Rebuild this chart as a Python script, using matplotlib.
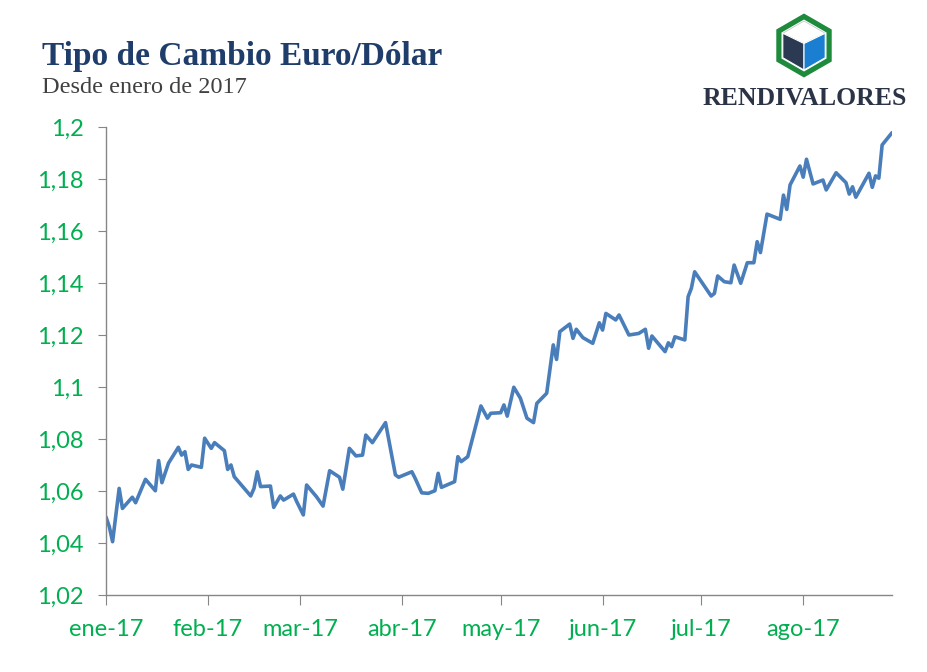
import matplotlib
matplotlib.use("Agg")
import matplotlib.pyplot as plt
from matplotlib.patches import Polygon
import numpy as np
import pandas as pd

# ---------------- data ----------------
dates = [
    "2017-01-01", "2017-01-02", "2017-01-03", "2017-01-05", "2017-01-06", "2017-01-09", "2017-01-10",
    "2017-01-13", "2017-01-16", "2017-01-17", "2017-01-18", "2017-01-20", "2017-01-23", "2017-01-24",
    "2017-01-25", "2017-01-26", "2017-01-27", "2017-01-30", "2017-01-31",
    "2017-02-02", "2017-02-03", "2017-02-06", "2017-02-07", "2017-02-08", "2017-02-09", "2017-02-14",
    "2017-02-15", "2017-02-16", "2017-02-17", "2017-02-20", "2017-02-21", "2017-02-23", "2017-02-24",
    "2017-02-27", "2017-02-28",
    "2017-03-02", "2017-03-03", "2017-03-06", "2017-03-08", "2017-03-10", "2017-03-13", "2017-03-14",
    "2017-03-16", "2017-03-18", "2017-03-20", "2017-03-21", "2017-03-23", "2017-03-27", "2017-03-28",
    "2017-03-30", "2017-03-31",
    "2017-04-04", "2017-04-05", "2017-04-07", "2017-04-09", "2017-04-11", "2017-04-12", "2017-04-13",
    "2017-04-17", "2017-04-18", "2017-04-19", "2017-04-21", "2017-04-25", "2017-04-27", "2017-04-28",
    "2017-05-01", "2017-05-02", "2017-05-03", "2017-05-05", "2017-05-07", "2017-05-09", "2017-05-11",
    "2017-05-12", "2017-05-15", "2017-05-17", "2017-05-18", "2017-05-19", "2017-05-22", "2017-05-23",
    "2017-05-24", "2017-05-26", "2017-05-29", "2017-05-31",
    "2017-06-01", "2017-06-02", "2017-06-05", "2017-06-06", "2017-06-09", "2017-06-12", "2017-06-14",
    "2017-06-15", "2017-06-16", "2017-06-20", "2017-06-21", "2017-06-22", "2017-06-23", "2017-06-26",
    "2017-06-27", "2017-06-28", "2017-06-29",
    "2017-07-04", "2017-07-05", "2017-07-06", "2017-07-08", "2017-07-10", "2017-07-11", "2017-07-13",
    "2017-07-15", "2017-07-17", "2017-07-18", "2017-07-19", "2017-07-21", "2017-07-25", "2017-07-26",
    "2017-07-27", "2017-07-28", "2017-07-31",
    "2017-08-01", "2017-08-02", "2017-08-04", "2017-08-07", "2017-08-08", "2017-08-11", "2017-08-14",
    "2017-08-15", "2017-08-16", "2017-08-17", "2017-08-21", "2017-08-22", "2017-08-23", "2017-08-24",
    "2017-08-25", "2017-08-28",
]
eurusd = [
    1.0500, 1.0463, 1.0405, 1.0610, 1.0533, 1.0576, 1.0555,
    1.0645, 1.0601, 1.0717, 1.0632, 1.0707, 1.0768, 1.0738,
    1.0751, 1.0683, 1.0700, 1.0691, 1.0803,
    1.0764, 1.0786, 1.0755, 1.0683, 1.0700, 1.0655, 1.0581,
    1.0610, 1.0674, 1.0617, 1.0619, 1.0537, 1.0581, 1.0565,
    1.0588, 1.0559,
    1.0508, 1.0623, 1.0578, 1.0542, 1.0678, 1.0653, 1.0607,
    1.0764, 1.0735, 1.0738, 1.0815, 1.0786, 1.0863, 1.0796,
    1.0662, 1.0653,
    1.0674, 1.0649, 1.0593, 1.0591, 1.0601, 1.0668, 1.0614,
    1.0636, 1.0732, 1.0713, 1.0732, 1.0927, 1.0880, 1.0899,
    1.0901, 1.0931, 1.0888, 1.0999, 1.0957, 1.0880, 1.0863,
    1.0937, 1.0976, 1.1162, 1.1106, 1.1213, 1.1242, 1.1187,
    1.1222, 1.1190, 1.1168, 1.1247,
    1.1219, 1.1283, 1.1258, 1.1277, 1.1200, 1.1206, 1.1222,
    1.1149, 1.1196, 1.1136, 1.1170, 1.1155, 1.1193, 1.1181,
    1.1347, 1.1380, 1.1443,
    1.1350, 1.1360, 1.1427, 1.1405, 1.1401, 1.1469, 1.1399,
    1.1478, 1.1478, 1.1559, 1.1517, 1.1665, 1.1645, 1.1738,
    1.1683, 1.1777, 1.1850,
    1.1807, 1.1876, 1.1781, 1.1796, 1.1758, 1.1824, 1.1786,
    1.1742, 1.1770, 1.1730, 1.1822, 1.1768, 1.1812, 1.1803,
    1.1931, 1.1978,
]
month_ticks = ["2017-01-01", "2017-02-01", "2017-03-01", "2017-04-01", "2017-05-01",
               "2017-06-01", "2017-07-01", "2017-08-01"]
month_labels = ["ene-17", "feb-17", "mar-17", "abr-17", "may-17", "jun-17", "jul-17", "ago-17"]
y_ticks = [1.02, 1.04, 1.06, 1.08, 1.10, 1.12, 1.14, 1.16, 1.18, 1.20]
y_labels = ["1,02", "1,04", "1,06", "1,08", "1,1", "1,12", "1,14", "1,16", "1,18", "1,2"]

title = "Tipo de Cambio Euro/Dólar"
subtitle = "Desde enero de 2017"
brand = "RENDIVALORES"

# ---------------- figure ----------------
W, H = 928, 672
fig = plt.figure(figsize=(W / 100, H / 100), dpi=100)
fig.patch.set_facecolor("white")

ax = fig.add_axes([106 / W, 1 - 595 / H, (892 - 106) / W, (595 - 127) / H])
x = pd.to_datetime(dates)
ax.plot(x, eurusd, color="#4A7EBB", linewidth=2.6, solid_joinstyle="round",
        solid_capstyle="round")

ax.set_ylim(1.02, 1.20)
ax.set_xlim(pd.Timestamp("2017-01-01"), pd.Timestamp(dates[-1]))
ax.set_yticks(y_ticks)
ax.set_yticklabels(y_labels)
ax.set_xticks(pd.to_datetime(month_ticks))
ax.set_xticklabels(month_labels)

label_font = "Lato"
for lab in ax.get_yticklabels() + ax.get_xticklabels():
    lab.set_fontfamily(label_font)
    lab.set_fontsize(17)
    lab.set_color("#00B050")

for s in ("top", "right"):
    ax.spines[s].set_visible(False)
for s in ("left", "bottom"):
    ax.spines[s].set_color("#868686")
    ax.spines[s].set_linewidth(1.0)
ax.tick_params(axis="y", direction="out", length=6, color="#868686", pad=10)
ax.tick_params(axis="x", direction="out", length=7, color="#868686", pad=10)

# ---------------- overlay (titles + logo) ----------------
ov = fig.add_axes([0, 0, 1, 1], facecolor="none")
ov.set_xlim(0, W)
ov.set_ylim(H, 0)
ov.axis("off")

ov.text(42, 65, title, fontfamily="Liberation Serif", fontweight="bold", fontsize=24,
        color="#1F3D6B", ha="left", va="baseline")
ov.text(42, 93, subtitle, fontfamily="Liberation Serif", fontsize=17.5,
        color="#404040", ha="left", va="baseline")

# logo: hexagon with cube
cx, cy = 804, 45.5
def hexagon(r):
    ang = np.deg2rad(np.arange(90, 450, 60))
    return np.column_stack([cx + r * np.cos(ang), cy - r * np.sin(ang)])

ov.add_patch(Polygon(hexagon(32.0), closed=True, facecolor="#1E8A3C", edgecolor="none"))
ov.add_patch(Polygon(hexagon(26.0), closed=True, facecolor="white", edgecolor="none"))
cr = 24.5
ch = hexagon(cr)  # top, upper-left, lower-left, bottom, lower-right, upper-right
center = (cx, cy - 2)
left_face = [ch[1], center, ch[3], ch[2]]
right_face = [center, ch[5], ch[4], ch[3]]
top_face = [ch[0], ch[1], center, ch[5]]
ov.add_patch(Polygon(top_face, closed=True, facecolor="white", edgecolor="#C8C8C8", linewidth=0.6))
ov.add_patch(Polygon(left_face, closed=True, facecolor="#2B3A52", edgecolor="white", linewidth=0.8))
ov.add_patch(Polygon(right_face, closed=True, facecolor="#1A7FD0", edgecolor="white", linewidth=0.8))

ov.text(805, 105, brand, fontfamily="Liberation Serif", fontweight="bold", fontsize=18.5,
        color="#2B3447", ha="center", va="baseline")

fig.savefig("out.png", dpi=100, facecolor="white")
